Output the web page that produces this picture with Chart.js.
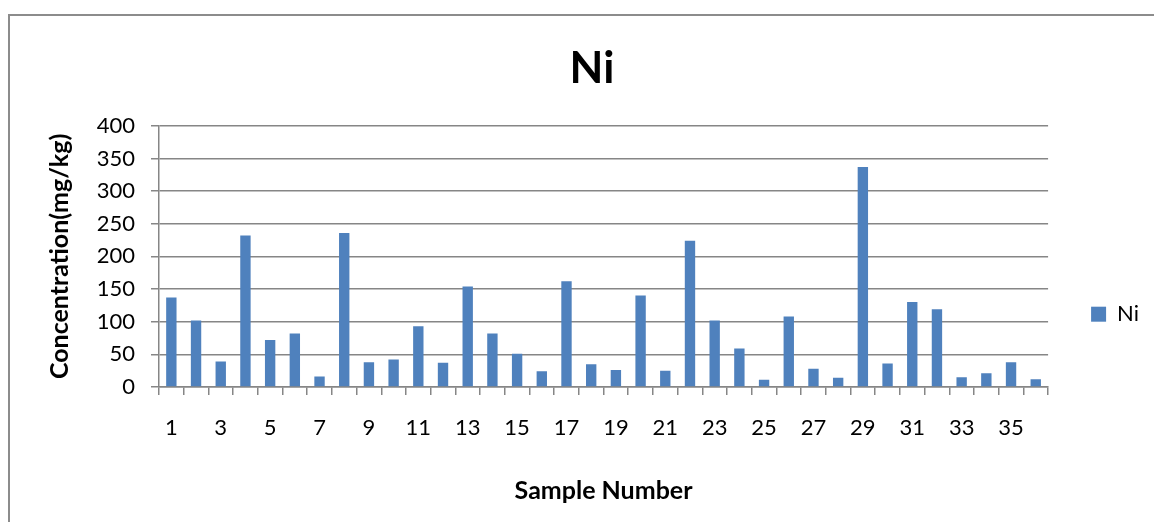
<!DOCTYPE html>
<html>
<head>
<meta charset="utf-8">
<script src="https://cdn.jsdelivr.net/npm/chart.js@4"></script>
<style>
  html, body { margin: 0; padding: 0; background: #fff; }
  #wrap { width: 1154px; height: 522px; }
</style>
</head>
<body>
<div id="wrap"><canvas id="niChart" width="1154" height="522"></canvas></div>
<script>
// sample numbers 1..36
var samples = ['1','2','3','4','5','6','7','8','9','10','11','12','13','14','15','16','17','18',
               '19','20','21','22','23','24','25','26','27','28','29','30','31','32','33','34','35','36'];
// Ni concentration (mg/kg)
var niValues = [137, 102, 39, 232, 72, 82, 16, 236, 38, 42, 93, 37, 154, 82, 51, 24, 162, 35,
                26, 140, 25, 224, 102, 59, 11, 108, 28, 14, 337, 36, 130, 119, 15, 21, 38, 12];
var yTicks = [0, 50, 100, 150, 200, 250, 300, 350, 400];

var gridGray = '#868686';
var fontFamily = 'Lato, "Open Sans", sans-serif';

// outer frame of the chart (only top and left edges show)
var framePlugin = {
    id: 'frame',
    beforeDraw: function (chart) {
        var c = chart.ctx;
        c.save();
        c.fillStyle = '#fff';
        c.fillRect(0, 0, chart.width, chart.height);
        c.strokeStyle = '#8c8c8c';
        c.lineWidth = 2;
        c.strokeRect(9, 15, chart.width + 20, chart.height + 20);
        c.restore();
    }
};

var ctx = document.getElementById('niChart');
var niChart = new Chart(ctx, {
    type: 'bar',
    data: {
        labels: samples,
        datasets: [{
            label: 'Ni',
            data: niValues,
            backgroundColor: '#4f81bd',
            borderWidth: 0,
            barPercentage: 0.42,
            categoryPercentage: 1.0
        }]
    },
    options: {
        responsive: false,
        animation: false,
        layout: {
            padding: { left: 35, top: 14, right: 5, bottom: 16 }
        },
        plugins: {
            title: {
                display: true,
                text: 'Ni',
                color: '#000',
                font: { family: fontFamily, size: 44, weight: 'bold' },
                padding: { top: 28, bottom: 31 }
            },
            legend: {
                position: 'right',
                title: { display: true, text: '', padding: { top: 94, bottom: 0 } },
                labels: {
                    boxWidth: 15,
                    boxHeight: 15,
                    padding: 43,
                    color: '#000',
                    font: { family: fontFamily, size: 22 }
                }
            },
            tooltip: { enabled: false }
        },
        scales: {
            x: {
                afterFit: function (scale) {
                    scale.height = 119;
                },
                grid: {
                    drawOnChartArea: false,
                    drawTicks: true,
                    tickLength: 8,
                    color: gridGray,
                    lineWidth: 1.5
                },
                border: { color: gridGray, width: 1.5 },
                ticks: {
                    autoSkip: false,
                    maxRotation: 0,
                    padding: 20,
                    color: '#000',
                    font: { family: fontFamily, size: 22 },
                    callback: function (value, index) {
                        return index % 2 === 0 ? samples[index] : '';
                    }
                },
                title: {
                    display: true,
                    text: 'Sample Number',
                    color: '#000',
                    font: { family: fontFamily, size: 25, weight: 'bold' },
                    padding: 0
                }
            },
            y: {
                min: 0,
                max: 400,
                afterBuildTicks: function (scale) {
                    scale.ticks = yTicks.map(function (v) { return { value: v }; });
                },
                afterFit: function (scale) {
                    scale.width = 124;
                },
                grid: {
                    drawTicks: true,
                    tickLength: 8,
                    color: gridGray,
                    lineWidth: 1.5
                },
                border: { color: gridGray, width: 1.5 },
                ticks: {
                    padding: 16,
                    color: '#000',
                    font: { family: fontFamily, size: 22 }
                },
                title: {
                    display: true,
                    text: 'Concentration(mg/kg)',
                    color: '#000',
                    font: { family: fontFamily, size: 25, weight: 'bold' },
                    padding: { top: 10, bottom: 0 }
                }
            }
        }
    },
    plugins: [framePlugin]
});
</script>
</body>
</html>
